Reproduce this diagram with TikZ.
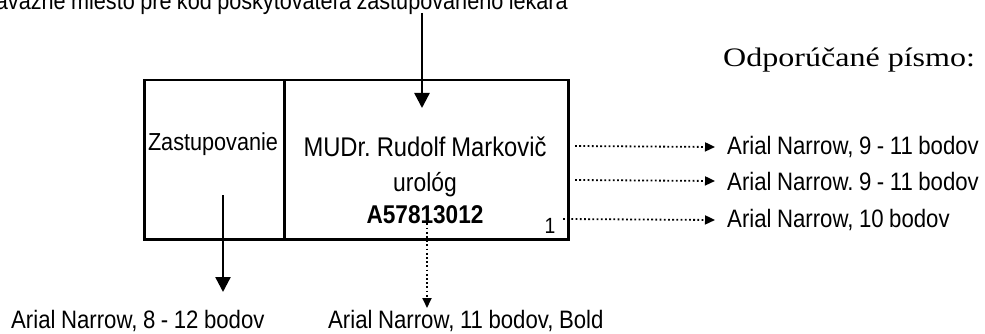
\documentclass[tikz,border=0pt]{standalone}
\usepackage{fontspec}
\usetikzlibrary{arrows.meta}
\newfontfamily\narrowfont[FakeStretch=0.88,WordSpace=0.9]{Liberation Sans}
\newfontfamily\timesfont[FakeStretch=1.2]{Liberation Serif}
\newcommand{\fsz}[1]{\fontsize{#1}{#1}\selectfont}
\frenchspacing

\begin{document}
\begin{tikzpicture}[line cap=butt,line join=miter,x=1pt,y=-1pt,
	cell/.style={draw,line width=2.5pt,minimum height=159pt,inner sep=0pt},
	txt/.style={inner sep=0pt,font=\narrowfont\fsz{25.2}},
	solidarrow/.style={line width=2.4pt,-{Triangle[width=15pt,length=15pt]}},
	dotarrow/.style={line width=1.8pt,dash pattern=on 1.8pt off 2.4pt,-{Triangle[width=9pt,length=10pt]}}]
				\useasboundingbox (0,0) rectangle (985,334);
				\clip (0,0) rectangle (985,334);
				% box with two cells
				\node [cell,minimum width=140pt,anchor=north west] (zast) at (143,79) {};
				\node [cell,minimum width=284pt,anchor=north west] (doc) at (283,79) {};
				\node [txt,font=\narrowfont\fsz{24.6},anchor=base] (zasttext) at (213,150) {Zastupovanie};
				\node [txt,font=\narrowfont\fsz{27},anchor=base] (name) at (425,157) {MUDr. Rudolf Markovič};
				\node [txt,font=\narrowfont\fsz{26},anchor=base] (odb) at (425,191) {urológ};
				\node [txt,font=\narrowfont\bfseries\fsz{25.7},anchor=base] (kod) at (425,223) {A57813012};
				\node [txt,font=\narrowfont\fsz{22},anchor=base] (one) at (550,233) {1};
				% notes
				\node [txt,font=\narrowfont\fsz{24.6},anchor=base east] (topnote) at (568,9.5) {Záväzné miesto pre kód poskytovateľa zastupovaného lekára};
				\node [inner sep=0pt,font=\timesfont\fsz{26.7},anchor=base west] (pismo) at (723,67) {Odporúčané písmo:};
				\node [txt,anchor=west] (fontA) at (727,147) {Arial Narrow, 9 - 11 bodov};
				\node [txt,anchor=west] (fontB) at (727,181) {Arial Narrow. 9 - 11 bodov};
				\node [txt,anchor=west] (fontC) at (727,220) {Arial Narrow, 10 bodov};
				\node [txt,anchor=base west] (fontD) at (11,328) {Arial Narrow, 8 - 12 bodov};
				\node [txt,anchor=base west] (fontE) at (328,328) {Arial Narrow, 11 bodov, Bold};
				% arrows
				\coordinate (topstart) at (422,13);
				\coordinate (topend) at (422,108);
				\coordinate (zaststart) at (223,195);
				\coordinate (zastend) at (223,292);
				\coordinate (kodend) at (427,308);
				\draw [solidarrow] (topstart) -- (topend);
				\draw [solidarrow] (zaststart) -- (zastend);
				\draw [dotarrow] (kod.south -| kodend) -- (kodend);
				\draw [dotarrow] (575,146) -- ([xshift=-12pt]fontA.west);
				\draw [dotarrow] (575,180) -- ([xshift=-12pt]fontB.west);
				\draw [dotarrow] (563,219) -- ([xshift=-12pt]fontC.west);
			\end{tikzpicture}
\end{document}
